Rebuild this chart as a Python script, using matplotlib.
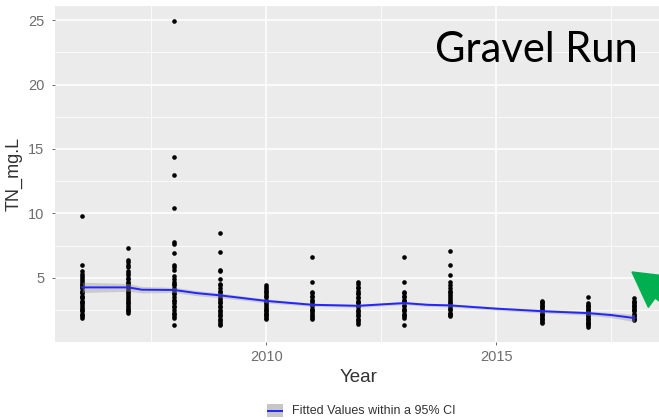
import matplotlib
matplotlib.use('Agg')
import matplotlib.pyplot as plt
from matplotlib.patches import FancyArrow, Rectangle
from matplotlib.lines import Line2D
import matplotlib.transforms as mtransforms

# TN samples per year (mg/L)
years = [2006, 2007, 2008, 2009, 2010, 2011, 2012, 2013, 2014, 2016, 2017, 2018]
tn_2006 = [9.8, 6.0, 5.5, 5.3, 5.1, 5.0, 4.8, 4.7, 4.5, 4.4, 4.3, 4.2, 4.0, 3.9, 3.8,
           3.6, 3.5, 3.4, 3.2, 3.1, 3.0, 2.9, 2.7, 2.6, 2.5, 2.4, 2.2, 2.1, 2.0, 1.9]
tn_2007 = [7.3, 6.4, 6.2, 6.0, 5.8, 5.5, 5.4, 5.2, 5.0, 4.9, 4.7, 4.6, 4.4, 4.3, 4.1,
           4.0, 3.9, 3.7, 3.6, 3.4, 3.3, 3.1, 3.0, 2.9, 2.7, 2.6, 2.5, 2.4, 2.3]
tn_2008 = [24.9, 14.4, 13.0, 10.4, 7.8, 7.6, 6.9, 6.0, 5.8, 5.6, 5.1, 4.9, 4.7, 4.5,
           4.4, 4.2, 4.0, 3.8, 3.7, 3.5, 3.3, 3.2, 3.0, 2.8, 2.7, 2.5, 2.3, 2.2, 2.0,
           1.9, 1.3]
tn_2009 = [8.5, 7.0, 5.6, 5.5, 4.9, 4.5, 4.4, 4.2, 4.0, 3.9, 3.7, 3.6, 3.4, 3.3, 3.1,
           3.0, 2.8, 2.7, 2.5, 2.4, 2.3, 2.1, 2.0, 1.8, 1.7, 1.6, 1.4, 1.3]
tn_2010 = [4.4, 4.3, 4.1, 4.0, 3.9, 3.7, 3.6, 3.5, 3.3, 3.2, 3.1, 3.0, 2.9, 2.7, 2.6,
           2.5, 2.4, 2.3, 2.2, 2.1, 2.0, 1.9, 1.8]
tn_2011 = [6.6, 4.7, 3.9, 3.8, 3.6, 3.5, 3.3, 3.2, 3.0, 2.9, 2.8, 2.6, 2.5, 2.4, 2.3,
           2.1, 2.0, 1.9, 1.8]
tn_2012 = [4.7, 4.5, 4.3, 4.2, 4.0, 3.8, 3.7, 3.5, 3.4, 3.2, 3.1, 3.0, 2.8, 2.7, 2.5,
           2.4, 2.3, 2.1, 2.0, 1.8, 1.7, 1.6, 1.4]
tn_2013 = [6.6, 4.7, 3.9, 3.8, 3.6, 3.5, 3.3, 3.2, 3.1, 2.9, 2.8, 2.6, 2.5, 2.4, 2.2,
           2.1, 2.0, 1.9, 1.3]
tn_2014 = [7.1, 6.0, 5.2, 4.7, 4.4, 4.2, 4.0, 3.9, 3.7, 3.6, 3.4, 3.3, 3.1, 3.0, 2.9,
           2.7, 2.6, 2.5, 2.3, 2.2, 2.1, 2.0]
tn_2016 = [3.2, 3.1, 3.0, 2.9, 2.8, 2.7, 2.6, 2.5, 2.4, 2.3, 2.2, 2.1, 2.0, 1.9, 1.8,
           1.7, 1.6, 1.5]
tn_2017 = [3.5, 3.0, 2.9, 2.8, 2.7, 2.6, 2.5, 2.4, 2.3, 2.2, 2.1, 2.0, 1.9, 1.8, 1.7,
           1.6, 1.5, 1.4, 1.3, 1.2]
tn_2018 = [3.4, 3.2, 3.1, 3.0, 2.9, 2.8, 2.7, 2.6, 2.5, 2.4, 2.2, 2.1, 2.0, 1.9, 1.8, 1.7]
samples = [tn_2006, tn_2007, tn_2008, tn_2009, tn_2010, tn_2011, tn_2012, tn_2013,
           tn_2014, tn_2016, tn_2017, tn_2018]

# fitted trend and 95% CI half width
fit_x = [2006, 2007, 2007.3, 2008, 2008.5, 2009, 2010, 2011, 2012, 2012.6, 2013,
         2013.5, 2014, 2015, 2016, 2017, 2017.5, 2018]
fit_y = [4.25, 4.25, 4.07, 4.05, 3.8, 3.63, 3.2, 2.9, 2.82, 2.95, 3.03, 2.9, 2.85,
         2.6, 2.4, 2.25, 2.1, 1.87]
fit_ci = [0.4, 0.3, 0.25, 0.2, 0.2, 0.18, 0.15, 0.12, 0.12, 0.12, 0.12, 0.12, 0.12,
          0.12, 0.14, 0.16, 0.2, 0.28]

plt.rcParams['font.family'] = ['Liberation Sans', 'DejaVu Sans']

fig = plt.figure(figsize=(6.59, 4.2), dpi=100)
ax = fig.add_axes([55 / 659, 78 / 420, 607 / 659, 336 / 420])
ax.set_facecolor('#EBEBEB')
for s in ax.spines.values():
    s.set_visible(False)

ax.set_xlim(2005.41, 2018.6)
ax.set_ylim(0.01, 26.1)
ax.set_xticks([2010, 2015])
ax.set_yticks([5, 10, 15, 20, 25])
ax.set_xticks([2007.5, 2012.5, 2017.5], minor=True)
ax.set_yticks([2.5, 7.5, 12.5, 17.5, 22.5], minor=True)
ax.grid(which='major', color='white', lw=1.1)
ax.grid(which='minor', color='white', lw=0.55)
ax.set_axisbelow(True)
ax.tick_params(which='major', length=2.5, width=0.6, color='#555555',
               labelsize=10.5, labelcolor='#6E6E6E')
ax.tick_params(axis='y', which='major', pad=5)
ax.tick_params(axis='x', which='major', pad=3)
ax.tick_params(which='minor', length=0)

for yr, vals in zip(years, samples):
    ax.scatter([yr] * len(vals), vals, s=11, color='black', lw=0, zorder=3)

lo = [y - c for y, c in zip(fit_y, fit_ci)]
hi = [y + c for y, c in zip(fit_y, fit_ci)]
ax.fill_between(fit_x, lo, hi, color='#9A9A9A', alpha=0.4, lw=0, zorder=4)
ax.plot(fit_x, fit_y, color='#2424FF', lw=1.4, zorder=5)

ax.set_xlabel('Year', fontsize=13.5, color='#333333', labelpad=4)
ax.set_ylabel('TN_mg.L', fontsize=13, color='#333333', labelpad=4)

# legend key: grey CI box with the fitted line across it
px = mtransforms.IdentityTransform()
fig.patches.append(Rectangle((267, 420 - 417), 16, 13, facecolor='#C6C6C6',
                             edgecolor='none', transform=px))
fig.lines.append(Line2D([268, 282], [420 - 410.5] * 2, color='#2424FF', lw=1.4,
                        transform=px))
fig.text(292 / 659, 1 - 411 / 420, 'Fitted Values within a 95% CI', fontsize=9,
         color='#333333', ha='left', va='center')

fig.text(638 / 659, 1 - 62 / 420, 'Gravel Run', family=['Lato', 'DejaVu Sans'],
         fontsize=30, color='black', ha='right', va='baseline')

# pointer arrow at the right edge
arrow = FancyArrow(712, 420 - 330, 632 - 712, 330 - 272, width=15,
                   head_width=38, head_length=34, length_includes_head=True,
                   color='#00B050', transform=px)
fig.patches.append(arrow)

fig.savefig('out.png', dpi=100)
